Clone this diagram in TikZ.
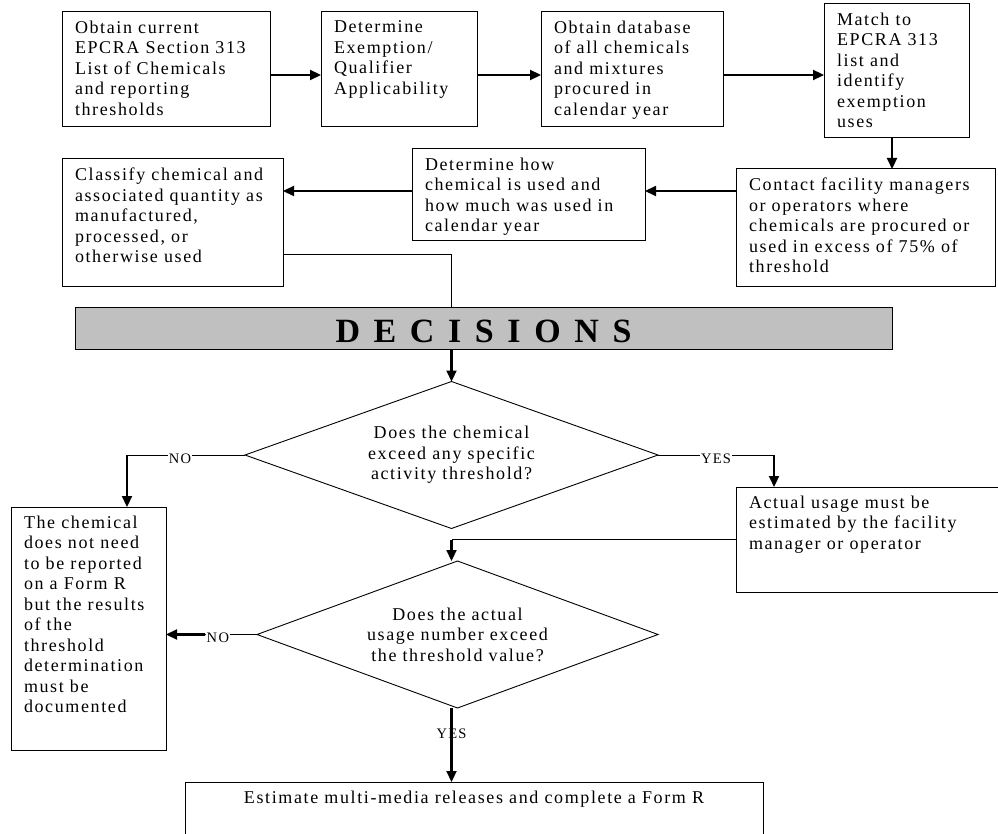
\documentclass[tikz,border=0pt]{standalone}
\usepackage{fontspec}
\setmainfont{Liberation Serif}[LetterSpace=9]
\newfontfamily\decfam{Liberation Serif}
\usetikzlibrary{arrows.meta,shapes.geometric}
\definecolor{decgray}{RGB}{192,192,192}
\newcommand\bodyfnt{\fontsize{18pt}{20.5pt}\selectfont}
\newcommand\lblfnt{\fontsize{14.5pt}{16pt}\selectfont}
\tikzset{
  boxst/.style={draw, line width=1pt, inner xsep=13pt, inner ysep=9pt, outer sep=0pt, font=\bodyfnt},
  dia/.style={draw, line width=0.9pt, shape=diamond, inner sep=0pt, outer sep=0pt, aspect=2.8, align=center, font=\bodyfnt},
  arr/.style={line width=2.2pt, -{Triangle[length=11pt,width=10pt]}},
  thinln/.style={line width=0.9pt},
  lbl/.style={font=\lblfnt, fill=white, inner sep=1pt},
  decst/.style={draw, fill=decgray, line width=1pt, inner sep=0pt, outer sep=0pt},
}
\newcommand\flbox[6]{\node[boxst,anchor=north west] (#1) at (#2,#3) {\parbox[t][\dimexpr#5pt-18pt\relax][t]{\dimexpr#4pt-26pt\relax}{\raggedright #6}};}
\begin{document}
\begin{tikzpicture}[x=1pt,y=-1pt]
\useasboundingbox (0,0) rectangle (998,834);
% top row
\flbox{b1}{62}{12}{208}{115}{Obtain current\\EPCRA Section 313\\List of Chemicals\\and reporting\\thresholds}
\flbox{b2}{321}{12}{156}{115}{Determine\\Exemption/\\Qualifier\\Applicability}
\flbox{b3}{541}{12}{182}{115}{Obtain database\\of all chemicals\\and mixtures\\procured in\\calendar year}
\flbox{b4}{824}{4}{145}{134}{Match to\\EPCRA 313\\list and\\identify\\exemption\\uses}
% second row
\flbox{ct}{736}{169}{259}{117}{Contact facility managers\\or operators where\\chemicals are procured or\\used in excess of 75\% of\\threshold}
\flbox{dh}{412}{149}{233}{92}{Determine how\\chemical is used and\\how much was used in\\calendar year}
\flbox{cl}{62}{159}{221}{127}{Classify chemical and\\associated quantity as\\manufactured,\\processed, or\\otherwise used}
% decisions bar
\node[decst, minimum width=817pt, minimum height=42pt] (dec) at (483.5,328)
  {\decfam\bfseries\fontsize{34pt}{40pt}\selectfont\rule{0pt}{30pt}\hbox to 296pt{D\hfil E\hfil C\hfil I\hfil S\hfil I\hfil O\hfil N\hfil S}};
% diamonds and lower boxes
\node[dia, minimum width=413pt, minimum height=147pt] (d1) at (451.5,455) {Does the chemical\\exceed any specific\\activity threshold?};
\flbox{act}{736}{487}{275}{105}{Actual usage must be\\estimated by the facility\\manager or operator}
\flbox{nb}{11}{507}{155}{243}{The chemical\\does not need\\to be reported\\on a Form R\\but the results\\of the\\threshold\\determination\\must be\\documented}
\node[dia, minimum width=401pt, minimum height=147pt] (d2) at (457.5,634.5) {Does the actual\\usage number exceed\\the threshold value?};
\node[boxst, anchor=north west] (est) at (185,782) {\parbox[t][62pt][t]{552pt}{\centering Estimate multi-media releases and complete a Form R}};
% connectors
\draw[arr] ([yshift=-5.5pt]b1.east) -- ([yshift=-5.5pt]b1.east -| b2.west);
\draw[arr] ([yshift=-5.5pt]b2.east) -- ([yshift=-5.5pt]b2.east -| b3.west);
\draw[arr] ([yshift=-5.5pt]b3.east) -- ([yshift=-5.5pt]b3.east -| b4.west);
\draw[arr] ([xshift=-4.5pt]b4.south) -- ([xshift=-4.5pt]b4.south |- ct.north);
\draw[arr] ([yshift=4pt]dh.east -| ct.west) -- ([yshift=4pt]dh.east);
\draw[arr] ([yshift=4pt]dh.west) -- ([yshift=4pt]dh.west -| cl.east);
\draw[thinln] ([yshift=-31.5pt]cl.east) -| (d1.north |- dec.north);
\draw[arr] (d1.north |- dec.south) -- (d1.north);
% decision 1 NO
\coordinate (n1x) at ([xshift=116pt]nb.north west);
\draw[thinln] (d1.west) -- node[lbl, pos=0.55, yshift=-4pt] (no1) {NO} (n1x |- d1.west);
\draw[arr] (n1x |- d1.west) -- (n1x);
% decision 1 YES
\coordinate (y1x) at ([xshift=38pt]act.north west);
\draw[thinln] (d1.east) -- node[lbl, yshift=-4pt] (yes1) {YES} (y1x |- d1.east);
\draw[arr] (y1x |- d1.east) -- (y1x);
% actual usage to decision 2
\draw[thinln] (act.west) -- (act.west -| d1.south);
\draw[arr] (act.west -| d1.south) -- (d1.south |- d2.north);
% decision 2 NO
\draw[thinln] (d2.west) -- node[lbl, pos=0.43, yshift=-3pt] (no2) {NO} (d2.west -| nb.east);
\draw[arr] (no2.west |- d2.west) -- (d2.west -| nb.east);
% decision 2 YES
\draw[arr] (d1.south |- d2.south) -- node[font=\lblfnt, pos=0.35] (yes2) {YES} (d1.south |- est.north);
\end{tikzpicture}
\end{document}
